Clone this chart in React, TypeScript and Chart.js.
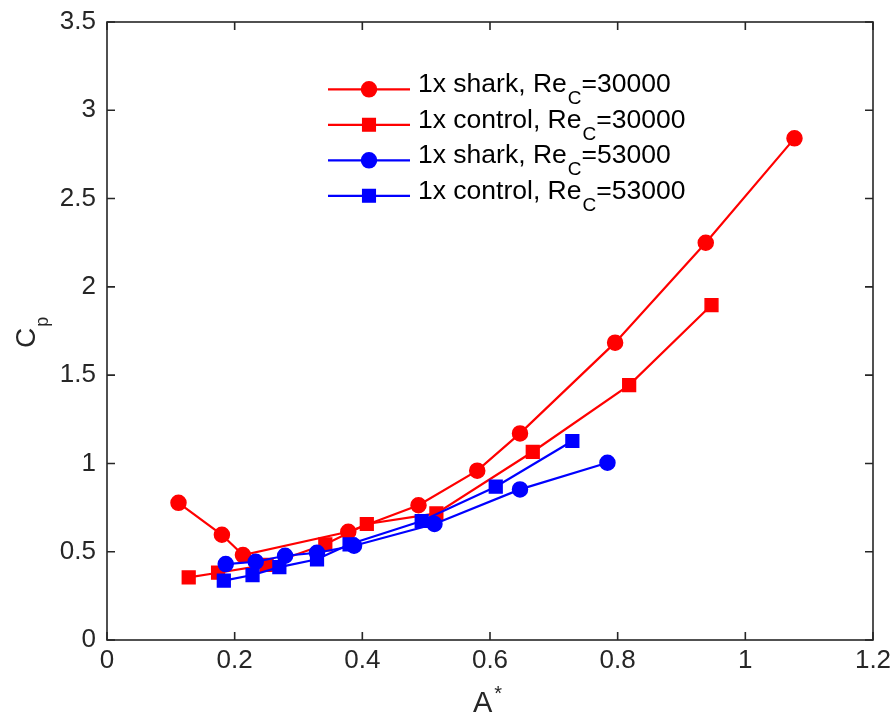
import React, { useEffect, useRef } from "react";
import { Chart, registerables } from "chart.js";
Chart.register(...registerables);

// ---- Data ----
const sharkX_30k = [0.112, 0.180, 0.213, 0.378, 0.488, 0.580, 0.647, 0.796, 0.938, 1.077];
const sharkY_30k = [0.777, 0.596, 0.481, 0.613, 0.763, 0.959, 1.170, 1.684, 2.250, 2.841];
const controlX_30k = [0.128, 0.174, 0.250, 0.342, 0.407, 0.516, 0.667, 0.818, 0.947];
const controlY_30k = [0.355, 0.381, 0.425, 0.542, 0.657, 0.717, 1.066, 1.444, 1.897];
const sharkX_53k = [0.186, 0.233, 0.279, 0.329, 0.387, 0.513, 0.647, 0.784];
const sharkY_53k = [0.430, 0.443, 0.477, 0.494, 0.534, 0.657, 0.853, 1.004];
const controlX_53k = [0.183, 0.228, 0.270, 0.329, 0.380, 0.493, 0.609, 0.729];
const controlY_53k = [0.336, 0.368, 0.413, 0.457, 0.542, 0.674, 0.868, 1.127];

const xTicks = [0, 0.2, 0.4, 0.6, 0.8, 1, 1.2];
const yTicks = [0, 0.5, 1, 1.5, 2, 2.5, 3, 3.5];
const xTickLabels = ["0", "0.2", "0.4", "0.6", "0.8", "1", "1.2"];
const yTickLabels = ["0", "0.5", "1", "1.5", "2", "2.5", "3", "3.5"];

const legendMain = ["1x shark, Re", "1x control, Re", "1x shark, Re", "1x control, Re"];
const legendSub = ["C", "C", "C", "C"];
const legendTail = ["=30000", "=30000", "=53000", "=53000"];
const seriesColors = ["#ff0000", "#ff0000", "#0000ff", "#0000ff"];
const seriesMarkers = ["circle", "rect", "circle", "rect"];

const xTitle = "A";
const xTitleSup = "*";
const yTitle = "C";
const yTitleSub = "p";

const FONT = '"Liberation Sans", Arial, Helvetica, sans-serif';
const AXIS_COLOR = "#262626";

const toPts = (xs: number[], ys: number[]) => xs.map((x, i) => ({ x, y: ys[i] }));

function drawMarker(ctx: CanvasRenderingContext2D, kind: string, x: number, y: number, color: string) {
  ctx.save();
  ctx.fillStyle = color;
  ctx.strokeStyle = color;
  ctx.lineWidth = 1.5;
  ctx.beginPath();
  if (kind === "circle") {
    ctx.arc(x, y, 7.5, 0, Math.PI * 2);
  } else {
    const h = 6.3;
    ctx.rect(x - h, y - h, 2 * h, 2 * h);
  }
  ctx.fill();
  ctx.stroke();
  ctx.restore();
}

const framePlugin = {
  id: "matlabFrame",
  afterDraw(chart: any) {
    const ctx: CanvasRenderingContext2D = chart.ctx;
    const { left, right, top, bottom } = chart.chartArea;
    const xs = chart.scales.x;
    const ys = chart.scales.y;
    ctx.save();
    // frame
    ctx.strokeStyle = AXIS_COLOR;
    ctx.lineWidth = 1.6;
    ctx.strokeRect(left, top, right - left, bottom - top);
    // inward ticks on all sides
    const tl = 8;
    ctx.beginPath();
    xTicks.forEach((v) => {
      const px = xs.getPixelForValue(v);
      ctx.moveTo(px, bottom);
      ctx.lineTo(px, bottom - tl);
      ctx.moveTo(px, top);
      ctx.lineTo(px, top + tl);
    });
    yTicks.forEach((v) => {
      const py = ys.getPixelForValue(v);
      ctx.moveTo(left, py);
      ctx.lineTo(left + tl, py);
      ctx.moveTo(right, py);
      ctx.lineTo(right - tl, py);
    });
    ctx.stroke();

    // x title
    ctx.fillStyle = AXIS_COLOR;
    ctx.textBaseline = "alphabetic";
    ctx.textAlign = "left";
    ctx.font = `29px ${FONT}`;
    ctx.fillText(xTitle, 473, 712);
    const aw = ctx.measureText(xTitle).width;
    ctx.font = `20px ${FONT}`;
    ctx.fillText(xTitleSup, 473 + aw + 2, 700);

    // y title
    ctx.save();
    ctx.translate(35, 348);
    ctx.rotate(-Math.PI / 2);
    ctx.font = `28px ${FONT}`;
    ctx.fillText(yTitle, 0, 0);
    const cw = ctx.measureText(yTitle).width;
    ctx.font = `18px ${FONT}`;
    ctx.fillText(yTitleSub, cw + 1, 13);
    ctx.restore();

    // legend
    const rowY0 = 89.3;
    const rowStep = 35.5;
    for (let i = 0; i < legendMain.length; i++) {
      const ry = rowY0 + i * rowStep;
      ctx.strokeStyle = seriesColors[i];
      ctx.lineWidth = 2.2;
      ctx.beginPath();
      ctx.moveTo(328, ry);
      ctx.lineTo(410, ry);
      ctx.stroke();
      drawMarker(ctx, seriesMarkers[i], 369, ry, seriesColors[i]);
      ctx.fillStyle = "#000000";
      ctx.font = `26.5px ${FONT}`;
      let tx = 418;
      const base = ry + 3;
      ctx.fillText(legendMain[i], tx, base);
      tx += ctx.measureText(legendMain[i]).width + 1;
      ctx.font = `19px ${FONT}`;
      ctx.fillText(legendSub[i], tx, base + 12);
      tx += ctx.measureText(legendSub[i]).width;
      ctx.font = `26.5px ${FONT}`;
      ctx.fillText(legendTail[i], tx, base);
    }
    ctx.restore();
  },
};

export default function App() {
  const ref = useRef<HTMLCanvasElement | null>(null);
  useEffect(() => {
    document.body.style.margin = "0";
    Chart.defaults.font.family = FONT;
    const canvas = ref.current!;
    const mkSet = (i: number, xs: number[], ys: number[]) => ({
      label: legendMain[i] + legendSub[i] + legendTail[i],
      data: toPts(xs, ys),
      borderColor: seriesColors[i],
      backgroundColor: seriesColors[i],
      borderWidth: 2.2,
      pointStyle: seriesMarkers[i],
      pointRadius: seriesMarkers[i] === "circle" ? 7.5 : 9,
      pointBorderWidth: 1.5,
      pointBorderColor: seriesColors[i],
      pointBackgroundColor: seriesColors[i],
      showLine: true,
      tension: 0,
      clip: false as any,
    });
    const chart = new Chart(canvas, {
      type: "scatter",
      data: {
        datasets: [
          mkSet(3, controlX_53k, controlY_53k),
          mkSet(2, sharkX_53k, sharkY_53k),
          mkSet(1, controlX_30k, controlY_30k),
          mkSet(0, sharkX_30k, sharkY_30k),
        ],
      },
      options: {
        responsive: false,
        animation: false,
        devicePixelRatio: 1,
        layout: { padding: { top: 22, right: 20, left: 0, bottom: 0 } },
        plugins: { legend: { display: false }, tooltip: { enabled: false } },
        scales: {
          x: {
            type: "linear",
            min: 0,
            max: 1.2,
            grid: { display: false, drawTicks: false },
            border: { display: false },
            afterBuildTicks: (s: any) => {
              s.ticks = xTicks.map((v) => ({ value: v }));
            },
            afterFit: (s: any) => {
              s.height = 75;
              s.paddingLeft = 0;
              s.paddingRight = 0;
            },
            ticks: {
              color: AXIS_COLOR,
              font: { size: 26, family: FONT },
              padding: 5,
              maxRotation: 0,
              autoSkip: false,
              callback: (v: any) => {
                const i = xTicks.findIndex((t) => Math.abs(t - Number(v)) < 1e-9);
                return i >= 0 ? xTickLabels[i] : "";
              },
            },
          },
          y: {
            type: "linear",
            min: 0,
            max: 3.5,
            grid: { display: false, drawTicks: false },
            border: { display: false },
            afterBuildTicks: (s: any) => {
              s.ticks = yTicks.map((v) => ({ value: v }));
            },
            afterFit: (s: any) => {
              s.width = 107;
              s.paddingTop = 0;
              s.paddingBottom = 0;
            },
            ticks: {
              color: AXIS_COLOR,
              font: { size: 26, family: FONT },
              padding: 11,
              autoSkip: false,
              callback: (v: any) => {
                const i = yTicks.findIndex((t) => Math.abs(t - Number(v)) < 1e-9);
                return i >= 0 ? yTickLabels[i] : "";
              },
            },
          },
        },
      },
      plugins: [framePlugin],
    } as any);
    return () => chart.destroy();
  }, []);
  return (
    <div style={{ width: 893, height: 715, background: "#ffffff" }}>
      <canvas ref={ref} width={893} height={715} style={{ display: "block" }} />
    </div>
  );
}
